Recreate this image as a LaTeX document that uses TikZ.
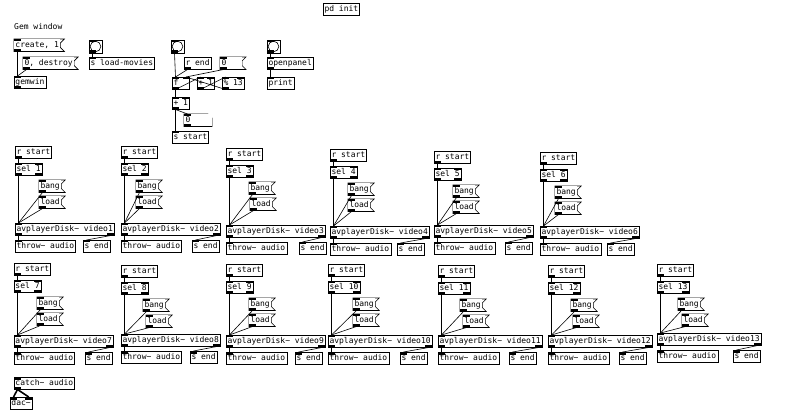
\documentclass[tikz,border=0pt]{standalone}
\usepackage{fontspec}
\newfontfamily\pdfont{DejaVu Sans Mono}
\newcommand\colorPdbox{black}
\newcommand\colorPdwire{black}
\newcommand\pdIOwidth{7pt}
\newcommand\pdIOheight{2.5pt}
\tikzset{
	pdbox/.style={draw=\colorPdbox, line width=0.6pt, anchor=north west, outer sep=0pt,
		inner xsep=1.5pt, inner ysep=0pt, minimum height=12.5pt,
		text height=6pt, text depth=1.5pt, font=\pdfont\fontsize{8pt}{9pt}\selectfont},
	ports/.style={path picture={
		\foreach \anc/\sx/\sy in {#1}
			\fill[\colorPdbox] (path picture bounding box.\anc) rectangle ++(\sx*\pdIOwidth, \sy*\pdIOheight);
	}},
	p10/.style={ports={north west/1/-1}},
	p01/.style={ports={south west/1/1}},
	p11/.style={ports={north west/1/-1,south west/1/1}},
	p20/.style={ports={north west/1/-1,north east/-1/-1}},
	p21/.style={ports={north west/1/-1,north east/-1/-1,south west/1/1}},
	p12/.style={ports={north west/1/-1,south west/1/1,south east/-1/1}},
	p22/.style={ports={north west/1/-1,north east/-1/-1,south west/1/1,south east/-1/1}},
	pdmsg/.style={pdbox, draw=none, fill=white, p11, append after command={\pgfextra{
		\draw[line width=0.6pt, \colorPdbox] (\tikzlastnode.north west) -- ([xshift=4pt]\tikzlastnode.north east)
			-- ([yshift=-4pt]\tikzlastnode.north east) -- ([yshift=4pt]\tikzlastnode.south east)
			-- ([xshift=4pt]\tikzlastnode.south east) -- (\tikzlastnode.south west) -- cycle;}}},
	pdnum/.style={pdbox, draw=none, fill=white, p11, append after command={\pgfextra{
		\draw[line width=0.6pt, \colorPdbox] (\tikzlastnode.north west) -- ([xshift=-4pt]\tikzlastnode.north east)
			-- ([yshift=-4pt]\tikzlastnode.north east) -- (\tikzlastnode.south east)
			-- (\tikzlastnode.south west) -- cycle;}}},
	pdbng/.style={draw=\colorPdbox, line width=0.6pt, anchor=north west, outer sep=0pt, inner sep=0pt,
		minimum size=13pt, p11, append after command={\pgfextra{
		\draw[line width=0.6pt, \colorPdbox] (\tikzlastnode.center) circle (5.3pt);}}},
	wire/.style={draw=\colorPdwire, line width=0.6pt},
	sigwire/.style={draw=\colorPdwire, line width=1.6pt},
}
\newcommand\wireLL[3][wire]{\draw[#1] ([xshift=3.5pt]#2.south west) -- ([xshift=3.5pt]#3.north west);}
\newcommand\wireLR[3][wire]{\draw[#1] ([xshift=3.5pt]#2.south west) -- ([xshift=-3.5pt]#3.north east);}
\newcommand\wireRL[3][wire]{\draw[#1] ([xshift=-3.5pt]#2.south east) -- ([xshift=3.5pt]#3.north west);}
\newcommand\drawPlayer[7]{
	\node[pdbox, p01] (rs#1) at (#2,#3) {r start};
	\node[pdbox, p22] (sel#1) at (#2,#3+17) {sel #1};
	\node[pdmsg] (bang#1) at (#5,#3+34) {bang};
	\node[pdmsg] (load#1) at (#6,#3+50) {load};
	\node[pdbox, p12] (av#1) at (#2,#4) {avplayerDisk\textasciitilde{} video#1};
	\node[pdbox, p10] (throw#1) at (#2,#4+17) {throw\textasciitilde{} audio};
	\node[pdbox, p10] (end#1) at (#7,#4+17) {s end};
	\wireLL{rs#1}{sel#1}
	\wireLL{sel#1}{av#1}
	\wireLL{bang#1}{av#1}
	\wireLL{load#1}{av#1}
	\wireLL[sigwire]{av#1}{throw#1}
	\wireRL{av#1}{end#1}
}

\begin{document}
\begin{tikzpicture}[x=1pt, y=-1pt]
	\fill[white] (0,0) rectangle (800,419);
	\useasboundingbox (0,0) rectangle (800,419);

	\node[pdbox] (init) at (323,3) {pd init};
	\node[anchor=north west, inner sep=0pt, font=\pdfont\fontsize{8pt}{9pt}\selectfont] (gemlabel) at (14,23) {Gem window};

	\node[pdmsg] (create) at (14,39) {create, 1};
	\node[pdmsg] (destroy) at (23,57) {0, destroy};
	\node[pdbox, p11] (gemwin) at (14,76) {gemwin};
	\node[pdbng] (bngload) at (89,40) {};
	\node[pdbox, p10] (sload) at (89,57) {s load-movies};

	\node[pdbng] (bngnext) at (171,40) {};
	\node[pdbox, p01] (rend) at (184,57) {r end};
	\node[pdmsg, text width=19pt, align=left] (reset) at (220,57) {0};
	\node[pdbox, p21, text width=14.5pt, align=left] (fbox) at (172,77) {f};
	\node[pdbox, p21] (incr) at (197,77) {+ 1};
	\node[pdbox, p21] (modulo) at (222,77) {\% 13};
	\node[pdbox, p21] (plusone) at (172,97) {+ 1};
	\node[pdnum, text width=25pt, align=left] (count) at (184,114) {0};
	\node[pdbox, p10] (sstart) at (172,131) {s start};

	\node[pdbng] (bngopen) at (267,40) {};
	\node[pdbox, p11] (open) at (267,57) {openpanel};
	\node[pdbox, p10] (print) at (267,77) {print};

	\wireLL{create}{gemwin}
	\wireLL{destroy}{gemwin}
	\wireLL{bngload}{sload}
	\wireLL{bngnext}{fbox}
	\wireLL{rend}{fbox}
	\wireLR{reset}{fbox}
	\wireLL{fbox}{incr}
	\wireLL{incr}{modulo}
	\wireLR{modulo}{fbox}
	\wireLL{fbox}{plusone}
	\wireLL{plusone}{count}
	\wireLL{plusone}{sstart}
	\wireLL{bngopen}{open}
	\wireLL{open}{print}

	\foreach \n/\x/\y/\ya/\xb/\xl/\xe in {
		1/15/146/223/39/39/83, 2/121/146/223/136/136/192, 3/226/148/225/249/250/299,
		4/330/149/226/348/348/397, 5/434/151/225/453/453/505, 6/540/152/226/555/555/607,
		7/14/263/335/37/37/85, 8/121/265/334/143/146/190, 9/226/264/335/249/249/295,
		10/328/264/335/353/353/400, 11/438/265/335/460/463/509, 12/548/265/335/571/573/619,
		13/657/264/333/678/682/733}{
		\drawPlayer{\n}{\x}{\y}{\ya}{\xb}{\xl}{\xe}
	}

	\node[pdbox, p11] (catch) at (14,377) {catch\textasciitilde{} audio};
	\node[pdbox, p20] (dac) at (10,397) {dac\textasciitilde{}};
	\wireLL[sigwire]{catch}{dac}
	\wireLR[sigwire]{catch}{dac}
\end{tikzpicture}
\end{document}
